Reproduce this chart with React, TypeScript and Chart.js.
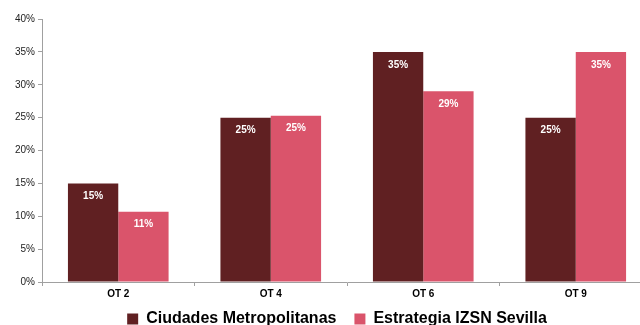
import React, { useEffect, useRef } from "react";
import { Chart, registerables } from "chart.js";

Chart.register(...registerables);

const categories = ["OT 2", "OT 4", "OT 6", "OT 9"];
const seriesNames = ["Ciudades Metropolitanas", "Estrategia IZSN Sevilla"];
const ciudades = [15, 25, 35, 25];
const izsn = [10.7, 25.3, 29, 35];
const ciudadesLabels = ["15%", "25%", "35%", "25%"];
const izsnLabels = ["11%", "25%", "29%", "35%"];
const yTicks = [0, 5, 10, 15, 20, 25, 30, 35, 40];

const FONT = "'Liberation Sans', Arial, sans-serif";

const labelPlugin = {
  id: "barLabels",
  afterDatasetsDraw(chart: any) {
    const ctx = chart.ctx;
    const labels = [ciudadesLabels, izsnLabels];
    ctx.save();
    ctx.font = "bold 10px " + FONT;
    ctx.fillStyle = "#ffffff";
    ctx.textAlign = "center";
    ctx.textBaseline = "middle";
    chart.data.datasets.forEach((ds: any, i: number) => {
      const meta = chart.getDatasetMeta(i);
      meta.data.forEach((bar: any, j: number) => {
        ctx.fillText(labels[i][j], bar.x, bar.y + 13);
      });
    });
    ctx.restore();
  },
};

const legendShift = {
  id: "legendShift",
  afterLayout(chart: any) {
    const lg = chart.legend;
    if (!lg) return;
    lg.left += 5;
    lg.right += 5;
    lg.top -= 9;
    lg.bottom -= 9;
  },
};

export default function App() {
  const ref = useRef<HTMLCanvasElement>(null);
  useEffect(() => {
    if (!ref.current) return;
    const chart = new Chart(ref.current, {
      type: "bar",
      data: {
        labels: categories,
        datasets: [
          {
            label: seriesNames[0],
            data: ciudades,
            backgroundColor: "#602022",
            borderWidth: 0,
          },
          {
            label: seriesNames[1],
            data: izsn,
            backgroundColor: "#DA546B",
            borderWidth: 0,
          },
        ],
      },
      options: {
        responsive: false,
        animation: false,
        layout: { padding: { top: 19, left: 12, right: 22, bottom: -21 } },
        datasets: {
          bar: { categoryPercentage: 0.66, barPercentage: 1 },
        },
        plugins: {
          legend: {
            position: "bottom",
            labels: {
              boxWidth: 11,
              boxHeight: 11,
              padding: 18,
              color: "#000",
              font: { family: FONT, size: 16, weight: "bold" },
            },
          },
          tooltip: { enabled: false },
        },
        scales: {
          x: {
            grid: {
              drawOnChartArea: false,
              color: "#a0a0a0",
              tickLength: 4,
            },
            border: { color: "#a0a0a0" },
            ticks: {
              color: "#000",
              padding: 2,
              font: { family: FONT, size: 10, weight: "bold" },
            },
          },
          y: {
            min: 0,
            max: 40,
            afterBuildTicks: (axis: any) => {
              axis.ticks = yTicks.map((v) => ({ value: v }));
            },
            grid: {
              drawOnChartArea: false,
              color: "#a0a0a0",
              tickLength: 4,
            },
            border: { color: "#a0a0a0" },
            ticks: {
              color: "#222",
              padding: 3,
              callback: (v: any) => v + "%",
              font: { family: FONT, size: 10 },
            },
          },
        },
      },
      plugins: [labelPlugin, legendShift],
    });
    return () => chart.destroy();
  }, []);
  return (
    <div style={{ position: "absolute", left: 0, top: 0, width: 640, height: 325, overflow: "hidden", background: "#fff" }}>
      <canvas ref={ref} width={674} height={325} style={{ display: "block" }} />
    </div>
  );
}
